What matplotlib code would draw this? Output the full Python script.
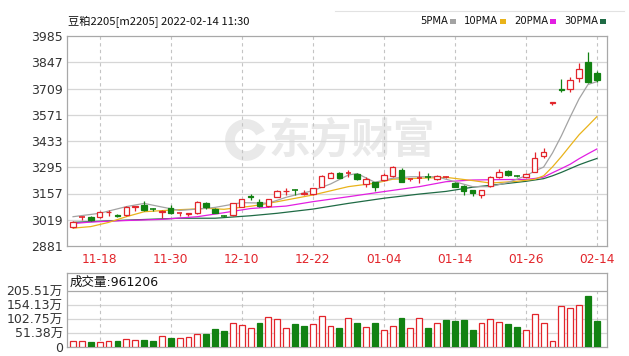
import matplotlib
matplotlib.use('Agg')
import matplotlib.pyplot as plt
from matplotlib.patches import Rectangle, Arc
from matplotlib import font_manager

plt.rcParams['font.family'] = ['DejaVu Sans', 'Noto Sans CJK SC']

# ---------------- data ----------------
dates = ['11-15', '11-16', '11-17', '11-18', '11-19', '11-22', '11-23', '11-24', '11-25', '11-26',
         '11-29', '11-30', '12-01', '12-02', '12-03', '12-06', '12-07', '12-08', '12-09', '12-10',
         '12-13', '12-14', '12-15', '12-16', '12-17', '12-20', '12-21', '12-22', '12-23', '12-24',
         '12-27', '12-28', '12-29', '12-30', '12-31', '01-04', '01-05', '01-06', '01-07', '01-10',
         '01-11', '01-12', '01-13', '01-14', '01-17', '01-18', '01-19', '01-20', '01-21', '01-24',
         '01-25', '01-26', '01-27', '01-28', '02-07', '02-08', '02-09', '02-10', '02-11', '02-14']

opens = [2982, 3028, 3033, 3035, 3058, 3042, 3044, 3085, 3097, 3081,
         3062, 3082, 3051, 3051, 3053, 3105, 3075, 3040, 3044, 3088,
         3142, 3114, 3092, 3140, 3168, 3178, 3157, 3152, 3193, 3240,
         3265, 3260, 3259, 3207, 3215, 3228, 3249, 3282, 3228, 3233,
         3249, 3234, 3243, 3214, 3196, 3175, 3149, 3196, 3242, 3277,
         3250, 3246, 3272, 3354, 3632, 3707, 3705, 3763, 3850, 3789]
closes = [3009, 3031, 3019, 3061, 3062, 3038, 3088, 3089, 3070, 3078,
          3066, 3053, 3054, 3055, 3110, 3085, 3057, 3037, 3105, 3126,
          3138, 3089, 3126, 3172, 3172, 3175, 3161, 3184, 3249, 3265,
          3240, 3263, 3232, 3232, 3193, 3255, 3296, 3219, 3231, 3236,
          3246, 3248, 3246, 3193, 3172, 3158, 3175, 3245, 3271, 3254,
          3248, 3262, 3342, 3377, 3636, 3703, 3754, 3810, 3745, 3752]
highs = [3015, 3040, 3038, 3066, 3070, 3048, 3092, 3090, 3118, 3083,
         3068, 3095, 3056, 3057, 3115, 3112, 3080, 3044, 3108, 3130,
         3156, 3126, 3130, 3175, 3184, 3180, 3176, 3188, 3255, 3270,
         3268, 3282, 3264, 3242, 3220, 3263, 3301, 3290, 3235, 3277,
         3265, 3252, 3250, 3220, 3200, 3178, 3178, 3250, 3284, 3282,
         3255, 3265, 3377, 3394, 3638, 3757, 3771, 3841, 3902, 3802]
lows = [2974, 3020, 3015, 3030, 3040, 3033, 3040, 3065, 3066, 3065,
        3027, 3050, 3040, 3040, 3050, 3078, 3052, 3032, 3040, 3085,
        3122, 3085, 3088, 3136, 3150, 3148, 3150, 3148, 3190, 3236,
        3237, 3243, 3228, 3193, 3172, 3224, 3245, 3215, 3225, 3212,
        3230, 3230, 3238, 3190, 3150, 3146, 3132, 3190, 3238, 3250,
        3246, 3243, 3268, 3342, 3622, 3692, 3692, 3745, 3736, 3745]

# volume in 万 and its colour (1 = up/red hollow, 0 = down/green)
volumes = [21, 21, 17, 17, 21, 23, 29, 27, 27, 23,
           42, 32, 32, 37, 46, 49, 67, 57, 88, 80,
           70, 88, 110, 102, 70, 83, 78, 83, 114, 77,
           70, 105, 88, 73, 88, 61, 78, 105, 70, 105,
           70, 88, 98, 95, 98, 61, 88, 102, 92, 83,
           73, 61, 122, 88, 22, 149, 144, 153, 186, 96.12]
vol_up = [1, 1, 0, 1, 1, 0, 1, 1, 0, 0, 1, 0, 1, 1, 1, 0, 0, 0, 1, 1,
          1, 0, 1, 1, 1, 0, 0, 1, 1, 1, 0, 1, 0, 1, 0, 1, 1, 0, 1, 1, 0,
          1, 0, 0, 0, 0, 1, 1, 1, 0, 0, 1, 1, 1, 1, 1, 1, 1, 0, 0]

ma5_x = [0, 3, 6, 8, 10, 12, 14, 16, 19, 22, 24, 27, 29, 31, 32, 34, 36, 38, 41, 43,
         45, 47, 49, 51, 52, 53, 54, 55, 56, 57, 58, 59]
ma5 = [3035, 3053, 3088, 3105, 3086, 3068, 3075, 3084, 3109, 3106, 3137, 3172, 3207, 3254,
       3262, 3216, 3237, 3245, 3245, 3219, 3193, 3193, 3215, 3250, 3275, 3296, 3370, 3460,
       3560, 3655, 3730, 3745]
ma10_x = [0, 2, 4, 6, 8, 11, 13, 15, 17, 20, 21, 23, 27, 31, 34, 36, 39, 42, 45, 47,
          50, 52, 53, 54, 55, 56, 57, 58, 59]
ma10 = [2975, 2983, 3005, 3035, 3061, 3070, 3074, 3079, 3074, 3090, 3097, 3114, 3149, 3193,
        3211, 3232, 3237, 3242, 3225, 3212, 3221, 3232, 3250, 3297, 3351, 3409, 3466, 3513, 3561]
ma20_x = [0, 2, 6, 10, 14, 17, 20, 24, 27, 31, 35, 39, 42, 45, 48, 51, 52, 53, 54, 55,
          56, 57, 58, 59]
ma20 = [2999, 3007, 3015, 3021, 3035, 3056, 3078, 3091, 3114, 3140, 3167, 3193, 3219, 3228,
        3230, 3231, 3236, 3243, 3266, 3288, 3311, 3340, 3366, 3391]
ma30_x = [0, 6, 12, 16, 20, 23, 27, 31, 35, 39, 42, 45, 48, 51, 52, 53, 54, 55, 56, 57, 58, 59]
ma30 = [3005, 3017, 3027, 3027, 3040, 3053, 3075, 3105, 3132, 3154, 3168, 3190, 3205, 3221,
        3228, 3235, 3250, 3268, 3288, 3308, 3325, 3341]

y_ticks = [2881, 3019, 3157, 3295, 3433, 3571, 3709, 3847, 3985]
vol_ticks = [0, 51.38, 102.75, 154.13, 205.51]
vol_tick_labels = ['0', '51.38万', '102.75万', '154.13万', '205.51万']
x_tick_labels = ['11-18', '11-30', '12-10', '12-22', '01-04', '01-14', '01-26', '02-14']
legend_names = ['5PMA', '10PMA', '20PMA', '30PMA']
title_text = '豆粕2205[m2205] 2022-02-14 11:30'
vol_header = '成交量:961206'
watermark = '东方财富'

# ---------------- styling ----------------
RED = '#e2252b'
GREEN = '#128212'
C_MA5 = '#a3a3a3'
C_MA10 = '#e9b31a'
C_MA20 = '#e21ee2'
C_MA30 = '#1f6b45'
FRAME = '#a8a8a8'
GRID = '#d6d6d6'
TXT = '#333333'

W, H = 629, 356
fig = plt.figure(figsize=(W / 100, H / 100), dpi=100)


def fx(p):
    return p / W


def fy(p):
    return 1 - p / H


n = len(dates)
xs = list(range(n))
tick_pos = [dates.index(d) for d in x_tick_labels]
XL = (-0.68, 60.14)

# ---------------- main price panel ----------------
ax = fig.add_axes([fx(67), fy(246), (607 - 67) / W, (246 - 36) / H])
ax.set_facecolor('none')
ax.set_axisbelow(True)
ax.set_xlim(*XL)
ax.set_ylim(y_ticks[0], y_ticks[-1])
ax.set_yticks(y_ticks)
ax.set_yticklabels([str(v) for v in y_ticks], fontsize=9, color=TXT)
ax.set_xticks(tick_pos)
ax.set_xticklabels(x_tick_labels, fontsize=8.8, color=RED)
ax.tick_params(axis='both', length=0, pad=3)
ax.tick_params(axis='x', pad=5)
for s in ax.spines.values():
    s.set_color(FRAME)
    s.set_linewidth(0.9)
for v in y_ticks[1:-1]:
    ax.axhline(v, color=GRID, lw=0.9, zorder=0.5)
for p in tick_pos:
    ax.axvline(p, color='#c4c4c4', lw=0.8, ls=(0, (3, 3)), zorder=0.5)

# watermark
ax.text(fx(352), fy(140), watermark, transform=fig.transFigure, fontsize=30,
        fontweight='bold', color='#e9e9e9', ha='center', va='center',
        family=['Noto Sans CJK SC'], zorder=0.2)
ax.add_patch(Arc((fx(246), fy(140)), 32 / W, 32 / H, theta1=40, theta2=330,
                 transform=fig.transFigure, color='#e9e9e9', lw=7, zorder=0.2))

# moving averages
ax.plot(ma30_x, ma30, color=C_MA30, lw=0.9, zorder=2)
ax.plot(ma20_x, ma20, color=C_MA20, lw=0.9, zorder=2)
ax.plot(ma10_x, ma10, color=C_MA10, lw=0.9, zorder=2)
ax.plot(ma5_x, ma5, color=C_MA5, lw=0.9, zorder=2)

# candles
BW = 0.62
for i in xs:
    o, c, h, l = opens[i], closes[i], highs[i], lows[i]
    up = c >= o
    col = RED if up else GREEN
    ax.vlines(i, l, h, color=col, lw=0.9, zorder=3)
    lo, hi = min(o, c), max(o, c)
    if hi - lo < 4:
        ax.hlines(c, i - BW / 2, i + BW / 2, color=col, lw=1.2, zorder=4)
    else:
        ax.add_patch(Rectangle((i - BW / 2, lo), BW, hi - lo,
                               facecolor='white' if up else col,
                               edgecolor=col, lw=0.9, zorder=4))

# ---------------- volume panel ----------------
axv = fig.add_axes([fx(67), fy(347), (607 - 67) / W, (347 - 273) / H])
axv.set_facecolor('none')
axv.set_axisbelow(True)
axv.set_xlim(*XL)
vtop = vol_ticks[-1] * (347 - 273) / (347 - 291)
axv.set_ylim(0, vtop)
axv.set_yticks(vol_ticks)
axv.set_yticklabels(vol_tick_labels, fontsize=9, color=TXT)
axv.set_xticks(tick_pos)
axv.set_xticklabels([])
axv.tick_params(axis='both', length=0, pad=3)
for s in axv.spines.values():
    s.set_color(FRAME)
    s.set_linewidth(0.9)
axv.axhline(vol_ticks[-1], color=FRAME, lw=0.9, zorder=1)
for v in vol_ticks[1:-1]:
    axv.axhline(v, color=GRID, lw=0.9, zorder=0.5)
for p in tick_pos:
    axv.plot([p, p], [0, vol_ticks[-1]], color='#c4c4c4', lw=0.8, ls=(0, (3, 3)), zorder=0.5)

VW = 0.66
for i in xs:
    if vol_up[i]:
        axv.add_patch(Rectangle((i - VW / 2, 0), VW, volumes[i], facecolor='white',
                                edgecolor=RED, lw=0.9, zorder=3))
    else:
        axv.add_patch(Rectangle((i - VW / 2, 0), VW, volumes[i], facecolor=GREEN,
                                edgecolor=GREEN, lw=0.9, zorder=3))

axv.text(fx(70), fy(282), vol_header, transform=fig.transFigure, fontsize=9,
         color='#111111', ha='left', va='center')

# ---------------- title and legend ----------------
fig.text(fx(68), fy(21), title_text, fontsize=8.1, color='#111111', ha='left',
         va='center', family=['Noto Sans CJK SC', 'DejaVu Sans'])

fig.add_artist(plt.Line2D([fx(335), fx(624)], [fy(11), fy(11)], color='#e2e2e2', lw=0.8))

# legend: pack text + colour square from the right edge (x = 606 px)
installed = {f.name for f in font_manager.fontManager.ttflist}
leg_family = ['Liberation Sans Narrow'] if 'Liberation Sans Narrow' in installed else ['DejaVu Sans']
leg_size = 8.5 if leg_family[0] == 'Liberation Sans Narrow' else 7.2
leg_cols = [C_MA5, C_MA10, C_MA20, C_MA30]
renderer = fig.canvas.get_renderer()
sq_w, sq_h, gap_sq, gap_item = 6, 5, 2, 8
widths = []
texts = []
for name in legend_names:
    t = fig.text(0, fy(21), name, fontsize=leg_size, color='#111111', ha='left', va='center',
                 family=leg_family)
    texts.append(t)
    widths.append(t.get_window_extent(renderer).width)
total = sum(widths) + len(widths) * (gap_sq + sq_w) + (len(widths) - 1) * gap_item
cur = 606 - total
for t, wdt, col in zip(texts, widths, leg_cols):
    t.set_x(fx(cur))
    cur += wdt + gap_sq
    fig.add_artist(Rectangle((fx(cur), fy(21 + sq_h / 2)), sq_w / W, sq_h / H,
                             transform=fig.transFigure, facecolor=col, edgecolor='none'))
    cur += sq_w + gap_item

fig.savefig('out.png', dpi=100, facecolor='white')
